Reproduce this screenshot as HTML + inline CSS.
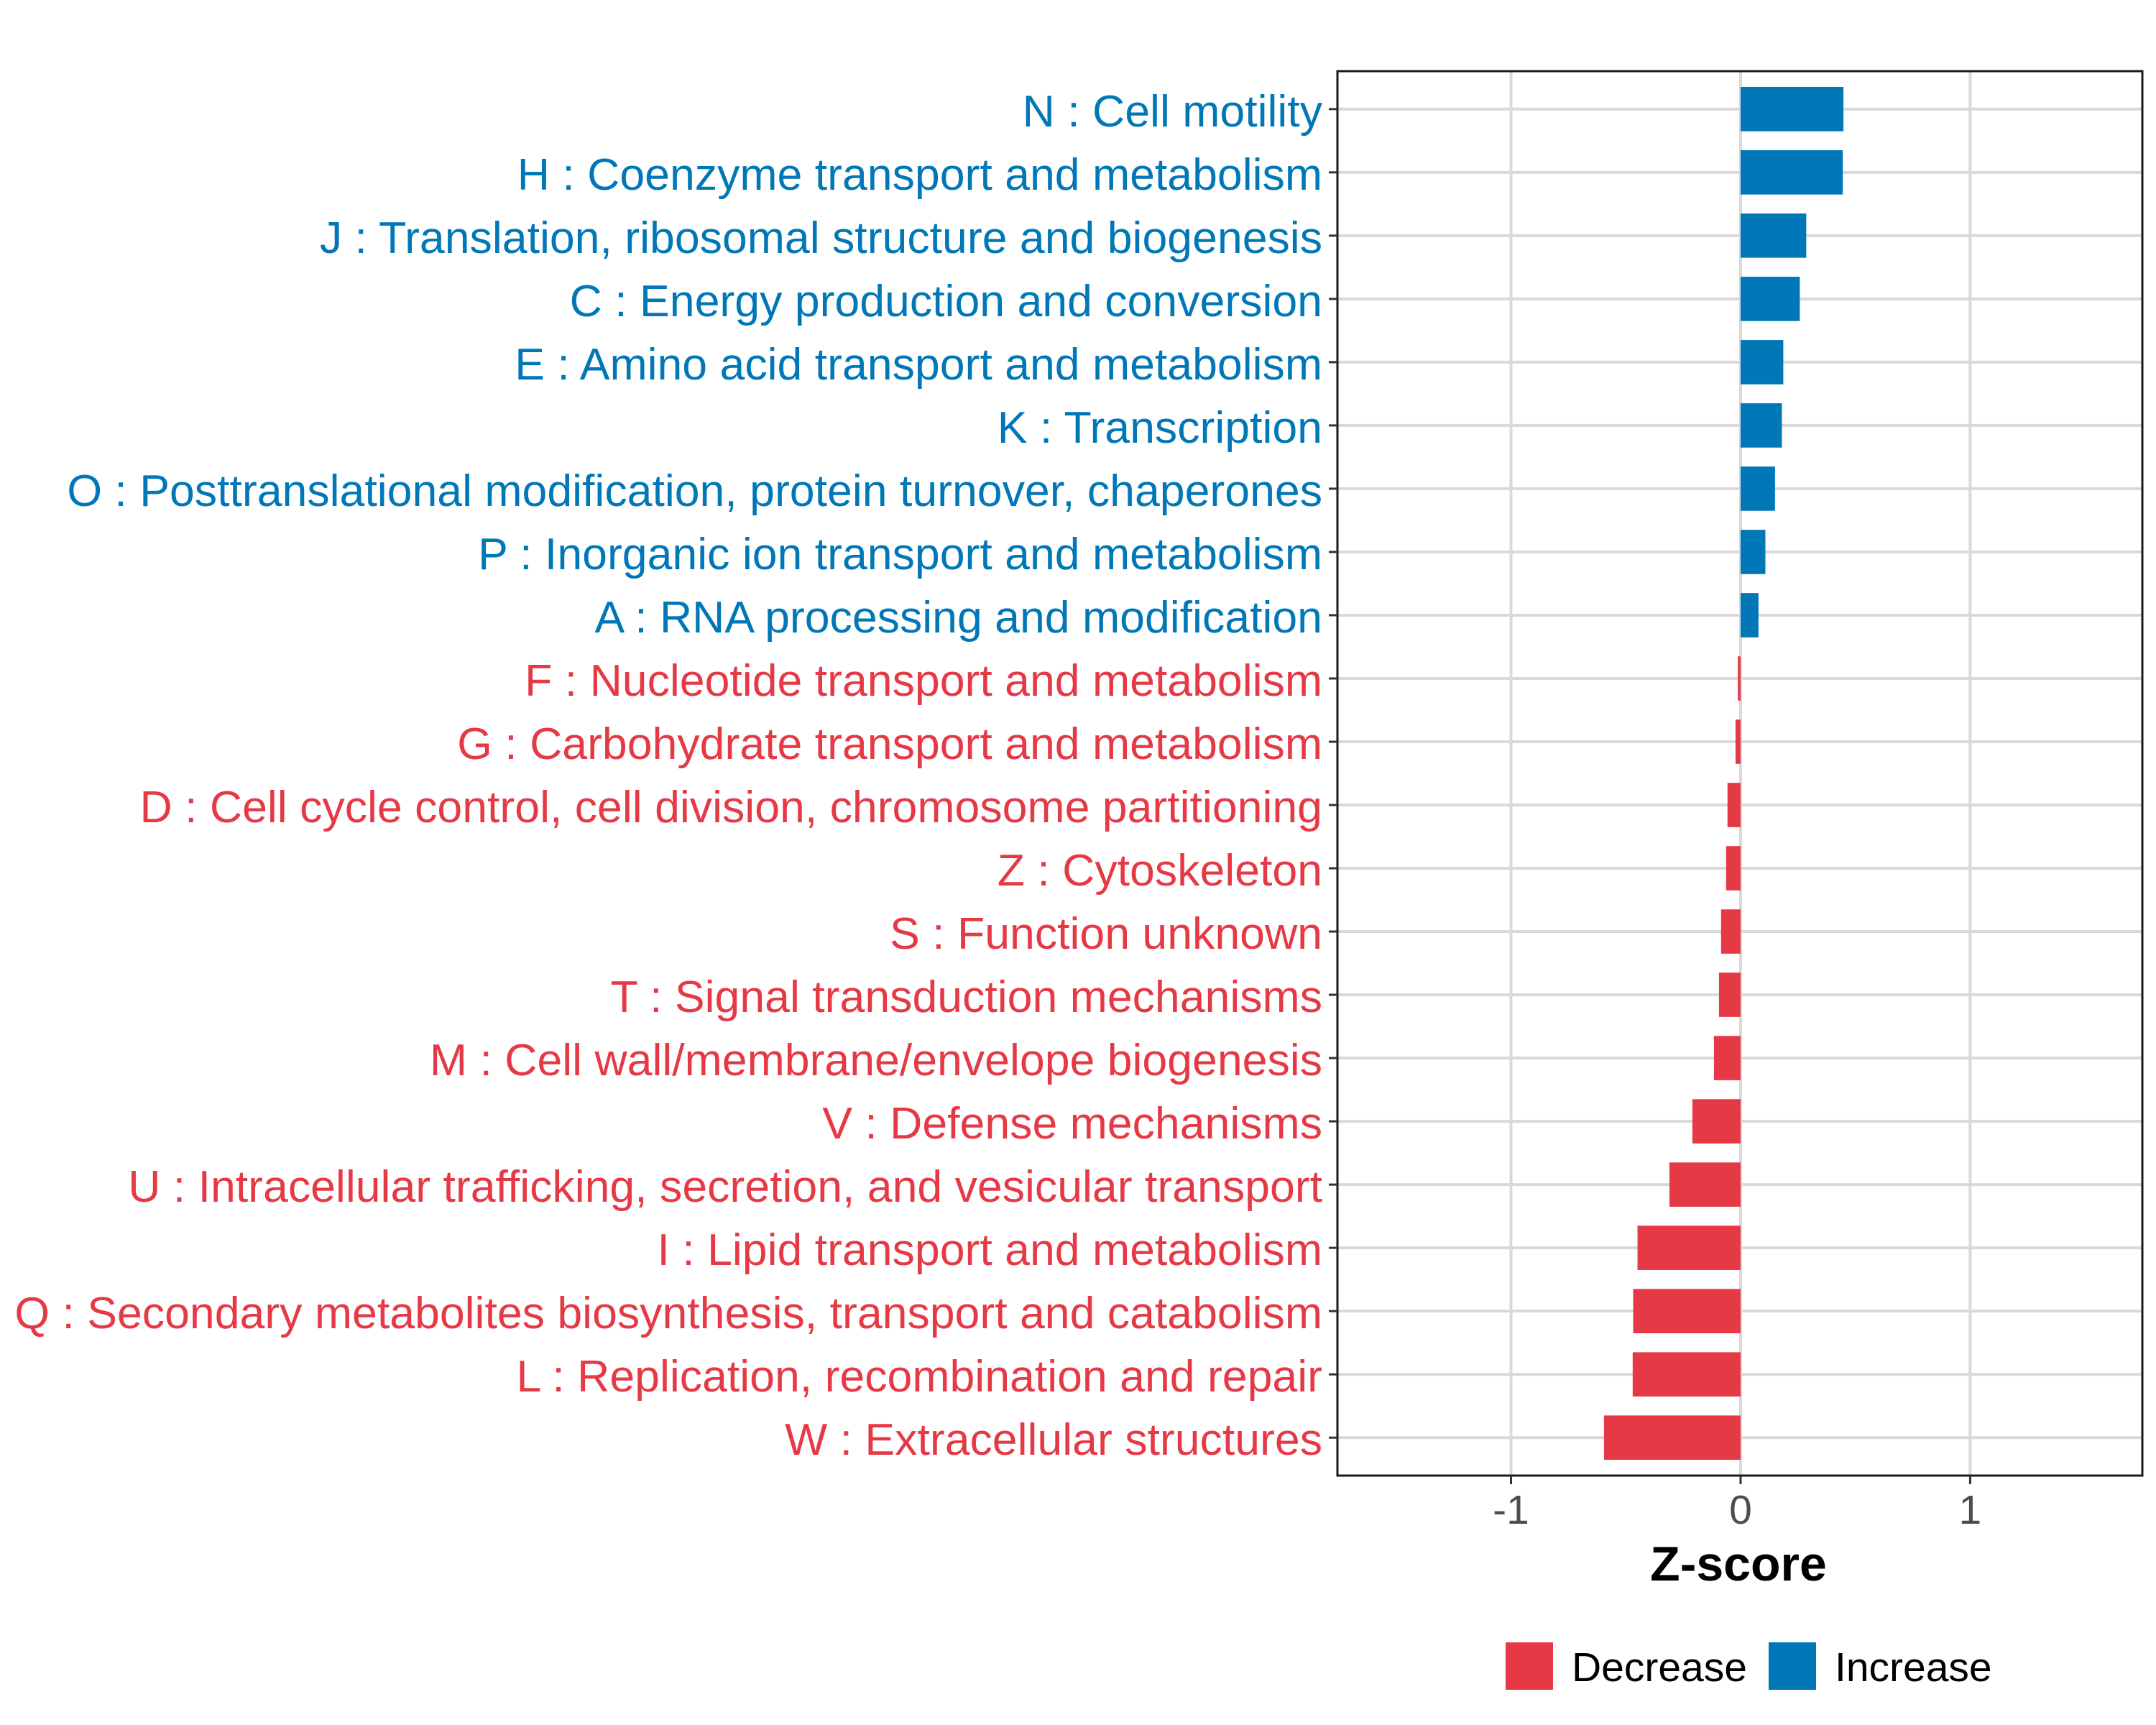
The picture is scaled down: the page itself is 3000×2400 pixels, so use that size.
<!DOCTYPE html>
<html><head><meta charset="utf-8"><style>
html,body{margin:0;padding:0;background:#fff;}
svg{display:block;font-family:"Liberation Sans",Arial,sans-serif;}
</style></head><body>
<svg id="chart" width="3000" height="2400" viewBox="0 0 3000 2400" xmlns="http://www.w3.org/2000/svg">
<rect x="0" y="0" width="3000" height="2400" fill="#fff"/>
<g id="grid"></g>
<g id="bars"></g>
<rect x="1861" y="99" width="1120" height="1954" fill="none" stroke="#1a1a1a" stroke-width="3"/>
<g id="ylabels"></g>
<g id="xticks"></g>
<text x="2419" y="2199" text-anchor="middle" font-size="68" font-weight="bold" fill="#000">Z-score</text>
<g>
<rect x="2095" y="2285" width="66" height="66" fill="#E63946"/>
<text x="2187" y="2339" font-size="57" fill="#000">Decrease</text>
<rect x="2461" y="2285" width="66" height="66" fill="#0077B6"/>
<text x="2553" y="2339" font-size="57" fill="#000">Increase</text>
</g>
</svg>
<script>
const categories = ["N : Cell motility","H : Coenzyme transport and metabolism","J : Translation, ribosomal structure and biogenesis","C : Energy production and conversion","E : Amino acid transport and metabolism","K : Transcription","O : Posttranslational modification, protein turnover, chaperones","P : Inorganic ion transport and metabolism","A : RNA processing and modification","F : Nucleotide transport and metabolism","G : Carbohydrate transport and metabolism","D : Cell cycle control, cell division, chromosome partitioning","Z : Cytoskeleton","S : Function unknown","T : Signal transduction mechanisms","M : Cell wall/membrane/envelope biogenesis","V : Defense mechanisms","U : Intracellular trafficking, secretion, and vesicular transport","I : Lipid transport and metabolism","Q : Secondary metabolites biosynthesis, transport and catabolism","L : Replication, recombination and repair","W : Extracellular structures"];
const zscores = [0.448,0.445,0.286,0.258,0.186,0.180,0.150,0.108,0.078,-0.012,-0.022,-0.057,-0.063,-0.085,-0.094,-0.116,-0.21,-0.31,-0.449,-0.468,-0.47,-0.595];
const xTicks = [-1,0,1];
const xTickLabels = ["-1","0","1"];

const NS="http://www.w3.org/2000/svg";
const panel={left:1861,right:2981,top:99,bottom:2053};
const xMin=-1.756,xMax=1.750;
function xScale(v){return panel.left+(v-xMin)/(xMax-xMin)*(panel.right-panel.left);}
const n=categories.length;
const step=(panel.bottom-panel.top)/(n-1+1.2);
function yScale(i){return panel.top+step*(0.6+i);}
function mk(tag,attrs,parent){const e=document.createElementNS(NS,tag);for(const k in attrs)e.setAttribute(k,attrs[k]);parent.appendChild(e);return e;}
const grid=document.getElementById('grid'),bars=document.getElementById('bars'),yl=document.getElementById('ylabels'),xt=document.getElementById('xticks');
xTicks.forEach((t,i)=>{
  const x=xScale(t);
  const g=mk('line',{x1:x,x2:x,y1:panel.top,y2:panel.bottom,stroke:'#d9d9d9','stroke-width':4},grid);
  
  
  const tk=mk('line',{x1:x,x2:x,y1:panel.bottom,y2:panel.bottom+12,stroke:'#333','stroke-width':3},xt);
  
  
  const tl=mk('text',{x:x,y:2120,'text-anchor':'middle','font-size':57,fill:'#4d4d4d'},xt);
  tl.textContent=xTickLabels[i];
  
  
});
categories.forEach((c,i)=>{
  const y=yScale(i);
  const g=mk('line',{x1:panel.left,x2:panel.right,y1:y,y2:y,stroke:'#d9d9d9','stroke-width':4},grid);
  
  
  const v=zscores[i];
  const col=v>=0?'#0077B6':'#E63946';
  const x0=xScale(0),x1=xScale(v);
  const h=step*0.7;
  const b=mk('rect',{x:Math.min(x0,x1),y:y-h/2,width:Math.abs(x1-x0),height:h,fill:col},bars);
  
  
  const tk=mk('line',{x1:panel.left-12,x2:panel.left,y1:y,y2:y,stroke:'#333','stroke-width':3},yl);
  
  
  const t=mk('text',{x:1840,y:y+24,'text-anchor':'end','font-size':62.6,fill:col},yl);
  t.textContent=c;
  
  
});
</script>
</body></html>
